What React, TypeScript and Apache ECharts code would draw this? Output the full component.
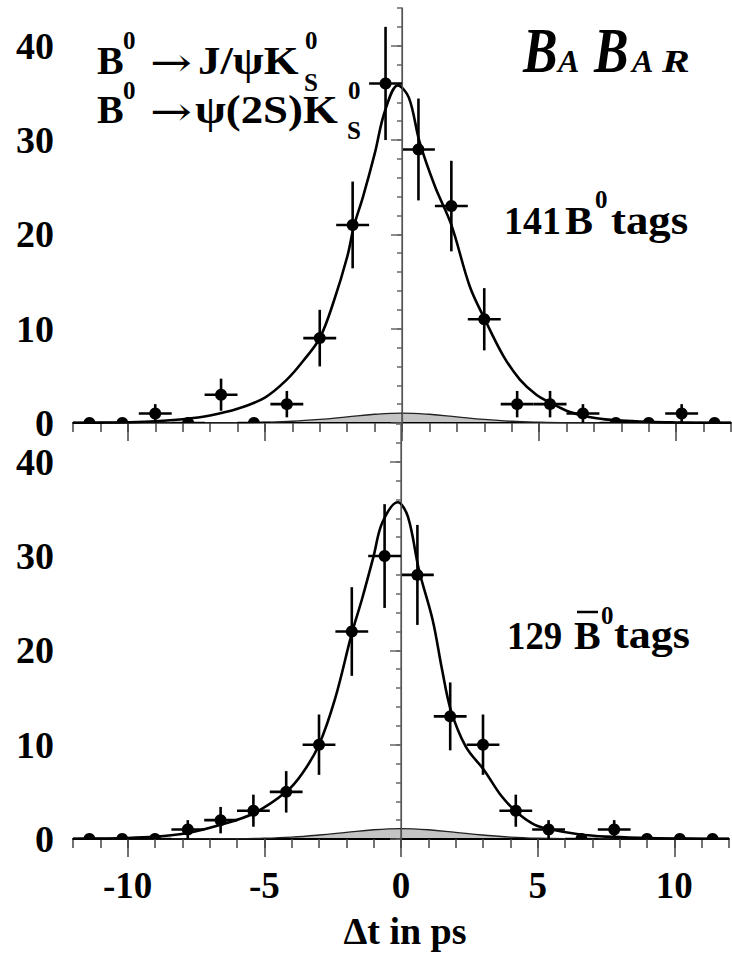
import React, { useEffect, useRef } from "react";
import * as echarts from "echarts";

// ---- data ----
const BIN_CENTERS = [-11.4, -10.2, -9.0, -7.8, -6.6, -5.4, -4.2, -3.0, -1.8, -0.6, 0.6, 1.8, 3.0, 4.2, 5.4, 6.6, 7.8, 9.0, 10.2, 11.4];
const BIN_HALF_WIDTH = 0.6;

const B0_COUNTS = [0, 0, 1, 0, 3, 0, 2, 9, 21, 36, 29, 23, 11, 2, 2, 1, 0, 0, 1, 0];
const B0_ERRORS = [0, 0, 1, 0, 1.7, 0, 1.4, 3.0, 4.6, 6.0, 5.4, 4.8, 3.3, 1.4, 1.4, 1.0, 0, 0, 1.0, 0];

const B0BAR_COUNTS = [0, 0, 0, 1, 2, 3, 5, 10, 22, 30, 28, 13, 10, 3, 1, 0, 1, 0, 0, 0];
const B0BAR_ERRORS = [0, 0, 0, 1.0, 1.4, 1.7, 2.2, 3.2, 4.7, 5.5, 5.3, 3.6, 3.2, 1.7, 1.0, 0, 1.0, 0, 0, 0];

const B0_FIT_T = [-12, -11, -10, -9, -8, -7, -6, -5, -4.2, -3.6, -3.0, -2.5, -2.0, -1.75, -1.42, -1.0, -0.63, -0.15, 0.25, 0.64, 1.2, 1.8, 2.47, 3.02, 3.7, 4.3, 4.9, 5.45, 6.1, 7.1, 8, 9, 10, 11, 12];
const B0_FIT_Y = [0.02, 0.04, 0.08, 0.18, 0.4, 0.8, 1.5, 2.7, 4.6, 6.6, 9.0, 12.8, 17.6, 20.9, 24.0, 28.5, 33.0, 35.8, 34.5, 29.8, 25.1, 21.0, 14.5, 11.0, 7.1, 4.6, 3.0, 2.1, 1.2, 0.5, 0.25, 0.12, 0.06, 0.03, 0.02];

const B0BAR_FIT_T = [-12, -11, -10, -9, -7.85, -6.6, -5.4, -4.2, -3.6, -3.0, -2.4, -1.8, -1.42, -1.0, -0.69, -0.12, 0.25, 0.66, 1.16, 1.5, 1.82, 2.37, 3.04, 3.69, 4.29, 4.9, 5.5, 6.5, 7.5, 9, 10, 11, 12];
const B0BAR_FIT_Y = [0.02, 0.05, 0.1, 0.25, 0.6, 1.5, 2.7, 5.0, 7.0, 10.0, 15.0, 21.8, 25.5, 30.0, 33.5, 35.7, 34.2, 28.5, 23.2, 18.0, 13.7, 9.8, 7.3, 4.5, 2.7, 1.5, 1.0, 0.5, 0.25, 0.1, 0.05, 0.03, 0.02];

const BG_T = [-12, -6, -5, -4, -3, -2, -1, 0, 1, 2, 3, 4, 5, 6, 12];
const B0_BG_Y = [0, 0.03, 0.08, 0.18, 0.38, 0.65, 0.92, 1.05, 0.92, 0.65, 0.38, 0.18, 0.08, 0.03, 0];
const B0BAR_BG_Y = [0, 0.03, 0.08, 0.2, 0.42, 0.7, 0.98, 1.1, 0.98, 0.7, 0.42, 0.2, 0.08, 0.03, 0];

const X_MIN = -12;
const X_MAX = 12;
const Y_MAX = 44;
const X_MAJOR = [-10, -5, 0, 5, 10];
const Y_MAJOR = [0, 10, 20, 30, 40];

const SERIF = "serif";
const ARROW_FONT = "DejaVu Serif";

function zip2(a: number[], b: number[]) {
  return a.map((v, i) => [v, b[i]]);
}
function zip3(a: number[], b: number[], c: number[]) {
  return a.map((v, i) => [v, b[i], c[i]]);
}

// text whose left edge (or centre) sits at x, vertical centre at y
function txt(text: string, x: number, y: number, size: number, extra: any = {}) {
  const { italic, scaleX, scaleY, align, family, weight } = extra;
  const style: any = {
    text,
    fill: "#000",
    fontSize: size,
    fontWeight: weight ?? "bold",
    fontFamily: family ?? SERIF,
    align: align ?? "left",
    verticalAlign: "middle",
  };
  if (italic) style.fontStyle = "italic";
  return {
    type: "text",
    x,
    y,
    scaleX: scaleX ?? 1,
    scaleY: scaleY ?? 1,
    style,
  };
}

const errorBarRender = (params: any, api: any) => {
  const x = api.value(0);
  const y = api.value(1);
  const e = api.value(2);
  const c = api.coord([x, y]);
  const l = api.coord([x - BIN_HALF_WIDTH, y]);
  const r = api.coord([x + BIN_HALF_WIDTH, y]);
  const t = api.coord([x, y + e]);
  const b = api.coord([x, Math.max(0, y - e)]);
  const st = { stroke: "#000", lineWidth: 2.6 };
  const children: any[] = [
    { type: "line", shape: { x1: l[0], y1: c[1], x2: r[0], y2: c[1] }, style: st },
  ];
  if (e > 0) {
    children.push({ type: "line", shape: { x1: c[0], y1: t[1], x2: c[0], y2: b[1] }, style: st });
  }
  children.push({ type: "circle", shape: { cx: c[0], cy: c[1], r: 6 }, style: { fill: "#000" } });
  return { type: "group", children };
};

function xAxes(gridIndex: number, labels: boolean) {
  return [
    {
      gridIndex,
      type: "value",
      min: X_MIN,
      max: X_MAX,
      interval: 1,
      position: "bottom",
      axisLine: { show: true, lineStyle: { color: "#000", width: 2.2 } },
      axisTick: { show: true, inside: false, length: 9, lineStyle: { color: "#444", width: 1.5 } },
      axisLabel: {
        show: labels,
        margin: 28,
        color: "#000",
        fontFamily: SERIF,
        fontWeight: "bold",
        fontSize: 37,
        formatter: (v: number) => (Math.abs(v % 5) < 1e-9 ? String(v) : ""),
      },
      splitLine: { show: false },
    },
    {
      gridIndex,
      type: "value",
      min: X_MIN,
      max: X_MAX,
      position: "bottom",
      axisLine: { show: false },
      axisTick: { show: true, inside: false, length: 18, customValues: X_MAJOR, lineStyle: { color: "#444", width: 1.5 } },
      axisLabel: { show: false },
      splitLine: { show: false },
    },
    {
      gridIndex,
      type: "value",
      min: X_MIN,
      max: X_MAX,
      position: "top",
      axisLine: { show: gridIndex === 0, lineStyle: { color: "#888", width: 1.2 } },
      axisTick: { show: false },
      axisLabel: { show: false },
      splitLine: { show: false },
    },
  ];
}

function yAxes(gridIndex: number) {
  return [
    {
      gridIndex,
      type: "value",
      min: 0,
      max: Y_MAX,
      interval: 2,
      position: "left",
      axisLine: { show: true, lineStyle: { color: "#666", width: 1.5 } },
      axisTick: { show: true, inside: false, length: 5, lineStyle: { color: "#666", width: 1.5 } },
      axisLabel: {
        show: true,
        margin: 19,
        color: "#000",
        fontFamily: SERIF,
        fontWeight: "bold",
        fontSize: 38,
        formatter: (v: number) => (Math.round(v) % 10 === 0 && Math.abs(v - Math.round(v)) < 1e-9 && v < 41 ? String(Math.round(v)) : ""),
      },
      splitLine: { show: false },
    },
    {
      gridIndex,
      type: "value",
      min: 0,
      max: Y_MAX,
      position: "left",
      axisLine: { show: false },
      axisTick: { show: true, inside: false, length: 11, customValues: Y_MAJOR, lineStyle: { color: "#666", width: 1.5 } },
      axisLabel: { show: false },
      splitLine: { show: false },
    },
    {
      gridIndex,
      type: "value",
      min: 0,
      max: Y_MAX,
      position: "right",
      axisLine: { show: true, lineStyle: { color: "#888", width: 1.2 } },
      axisTick: { show: false },
      axisLabel: { show: false },
      splitLine: { show: false },
    },
  ];
}

function panelSeries(xi: number, yi: number, counts: number[], errors: number[], fitT: number[], fitY: number[], bgY: number[]) {
  return [
    {
      type: "line",
      xAxisIndex: xi,
      yAxisIndex: yi,
      data: zip2(BG_T, bgY),
      smooth: 0.4,
      showSymbol: false,
      lineStyle: { color: "#222", width: 1.4 },
      areaStyle: { color: "rgba(0,0,0,0.33)" },
      z: 2,
      silent: true,
    },
    {
      type: "line",
      xAxisIndex: xi,
      yAxisIndex: yi,
      data: zip2(fitT, fitY),
      smooth: 0.35,
      showSymbol: false,
      lineStyle: { color: "#000", width: 2.6 },
      z: 3,
      silent: true,
      markLine: {
        silent: true,
        symbol: ["none", "none"],
        label: { show: false },
        lineStyle: { color: "#555", width: 1, type: "solid" },
        data: [{ xAxis: 0 }],
      },
    },
    {
      type: "custom",
      xAxisIndex: xi,
      yAxisIndex: yi,
      data: zip3(BIN_CENTERS, counts, errors),
      renderItem: errorBarRender,
      clip: true,
      z: 4,
      silent: true,
    },
  ];
}

export default function App() {
  const ref = useRef<HTMLDivElement>(null);
  useEffect(() => {
    document.body.style.margin = "0";
    const chart = echarts.init(ref.current!, undefined, { renderer: "svg" });
    const option: any = {
      animation: false,
      backgroundColor: "#fff",
      grid: [
        { left: 73, top: 8, width: 658, height: 415 },
        { left: 73, top: 424, width: 658, height: 415 },
      ],
      xAxis: [...xAxes(0, false), ...xAxes(1, true)],
      yAxis: [...yAxes(0), ...yAxes(1)],
      series: [
        ...panelSeries(0, 0, B0_COUNTS, B0_ERRORS, B0_FIT_T, B0_FIT_Y, B0_BG_Y),
        ...panelSeries(3, 3, B0BAR_COUNTS, B0BAR_ERRORS, B0BAR_FIT_T, B0BAR_FIT_Y, B0BAR_BG_Y),
      ],
      graphic: [
        // B0 -> J/psi K0S
        txt("B", 97, 60, 40),
        txt("0", 123, 40, 25),
        txt("→", 150, 62, 40, { scaleX: 1.25, family: ARROW_FONT, weight: "normal" }),
        txt("J/ψK", 198, 60, 40, { scaleX: 1.12 }),
        txt("0", 305, 40, 25),
        txt("S", 304, 82, 25),
        // B0 -> psi(2S) K0S
        txt("B", 97, 109, 40),
        txt("0", 123, 90, 25),
        txt("→", 150, 111, 40, { scaleX: 1.25, family: ARROW_FONT, weight: "normal" }),
        txt("ψ(2S)K", 195, 109, 40, { scaleX: 1.12 }),
        txt("0", 348, 90, 25),
        txt("S", 347, 130, 25),
        // BABAR logo
        txt("B", 523, 51, 48, { italic: true, scaleY: 1.3, scaleX: 1.08 }),
        txt("A", 558, 61, 32, { italic: true }),
        txt("B", 594, 51, 48, { italic: true, scaleY: 1.3, scaleX: 1.08 }),
        txt("A", 632, 61, 32, { italic: true }),
        txt("R", 662, 61, 32, { italic: true, scaleX: 1.3 }),
        // 141 B0 tags
        txt("141", 504, 220, 40, { scaleX: 0.95 }),
        txt("B", 565, 220, 40, { scaleX: 1.05 }),
        txt("0", 595, 199, 25),
        txt("tags", 611, 220, 40, { scaleX: 1.12 }),
        // 129 B0bar tags
        txt("129", 507, 635, 40, { scaleX: 0.92 }),
        txt("B", 574, 635, 40),
        { type: "line", silent: true, shape: { x1: 577, y1: 612, x2: 598, y2: 612 }, style: { stroke: "#000", lineWidth: 2.5 } },
        txt("0", 601, 615, 25),
        txt("tags", 614, 635, 40, { scaleX: 1.1 }),
        // x-axis title
        txt("Δt in ps", 405, 931, 38, { align: "center" }),
      ],
    };
    chart.setOption(option);
    return () => chart.dispose();
  }, []);
  return <div ref={ref} style={{ width: 732, height: 955 }} />;
}
